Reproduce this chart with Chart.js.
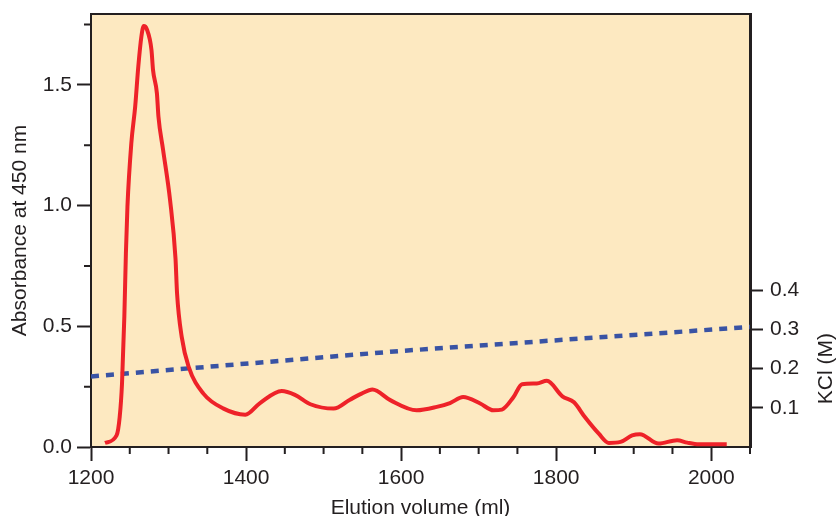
<!DOCTYPE html>
<html>
<head>
<meta charset="utf-8">
<script src="https://cdn.jsdelivr.net/npm/chart.js@4/dist/chart.umd.min.js"></script>
<style>
  html, body { margin: 0; padding: 0; background: #fff; }
  #wrap { width: 837px; height: 516px; }
</style>
</head>
<body>
<div id="wrap"><canvas id="chart" width="837" height="516"></canvas></div>
<script>
// absorbance trace
const elutionVolume = [1218, 1233, 1237, 1240, 1243, 1245, 1247, 1252, 1257, 1261, 1265, 1268, 1272,
    1278, 1280, 1285, 1287, 1293, 1302, 1309, 1311, 1317, 1326, 1345, 1371, 1399, 1418, 1446, 1463,
    1483, 1513, 1534, 1549, 1563, 1586, 1620, 1646, 1663, 1680, 1702, 1719, 1730, 1745, 1756, 1775,
    1788, 1808, 1823, 1837, 1855, 1868, 1883, 1898, 1908, 1932, 1956, 1969, 1984, 2020];
const absorbance = [0.017, 0.048, 0.124, 0.263, 0.54, 0.8, 0.995, 1.257, 1.41, 1.575, 1.70, 1.743, 1.73,
    1.644, 1.561, 1.465, 1.368, 1.23, 1.022, 0.78, 0.636, 0.456, 0.332, 0.221, 0.159, 0.134, 0.182, 0.232, 0.216,
    0.177, 0.159, 0.196, 0.221, 0.238, 0.194, 0.152, 0.166, 0.182, 0.207, 0.18, 0.152, 0.155, 0.207, 0.26, 0.263,
    0.274, 0.21, 0.185, 0.124, 0.055, 0.017, 0.021, 0.048, 0.053, 0.014, 0.028, 0.018, 0.011, 0.011];

// salt gradient
const kclVolume = [1200, 1600, 2050];
const kclConc = [0.18, 0.245, 0.306];

const xMajorTicks = [1200, 1400, 1600, 1800, 2000];
const xMinorTicks = [1250, 1300, 1350, 1450, 1500, 1550, 1650, 1700, 1750, 1850, 1900, 1950, 2050];
const absMajorTicks = [0, 0.5, 1.0, 1.5];
const absMinorTicks = [0.25, 0.75, 1.25, 1.75];
const kclTicks = [0.1, 0.2, 0.3, 0.4];

const ink = '#231f20';
const fontFamily = '"Liberation Sans", Arial, Helvetica, sans-serif';
Chart.defaults.font.family = fontFamily;
Chart.defaults.color = ink;

const frame = {
    id: 'frame',
    beforeDraw(chart) {
        const { ctx, chartArea: a } = chart;
        ctx.save();
        ctx.fillStyle = '#fde9c1';
        ctx.fillRect(a.left, a.top, a.right - a.left, a.bottom - a.top);
        ctx.restore();
    },
    afterDraw(chart) {
        const { ctx, chartArea: a, scales } = chart;
        ctx.save();
        ctx.strokeStyle = ink;
        ctx.lineWidth = 2;
        ctx.beginPath();
        ctx.moveTo(a.left - 1, a.top);
        ctx.lineTo(a.right + 1, a.top);
        ctx.stroke();

        // minor ticks
        ctx.beginPath();
        xMinorTicks.forEach(v => {
            const px = scales.x.getPixelForValue(v);
            ctx.moveTo(px, a.bottom);
            ctx.lineTo(px, a.bottom + 7);
        });
        absMinorTicks.forEach(v => {
            const py = scales.y.getPixelForValue(v);
            ctx.moveTo(a.left - 7, py);
            ctx.lineTo(a.left, py);
        });
        ctx.stroke();

        // right-hand title reads bottom to top
        ctx.translate(826, scales.kcl.getPixelForValue(0.2));
        ctx.rotate(-Math.PI / 2);
        ctx.font = '21px ' + fontFamily;
        ctx.fillStyle = ink;
        ctx.textAlign = 'center';
        ctx.textBaseline = 'middle';
        ctx.fillText('KCl (M)', 0, 0);
        ctx.restore();
    }
};

new Chart(document.getElementById('chart'), {
    type: 'line',
    data: {
        datasets: [{
            label: 'Absorbance',
            data: elutionVolume.map((v, i) => ({ x: v, y: absorbance[i] })),
            borderColor: '#ee2229',
            borderWidth: 4,
            pointRadius: 0,
            cubicInterpolationMode: 'monotone',
            yAxisID: 'y'
        }, {
            label: 'KCl',
            data: kclVolume.map((v, i) => ({ x: v, y: kclConc[i] })),
            borderColor: '#3953a4',
            borderWidth: 4.5,
            borderDash: [8, 7],
            pointRadius: 0,
            yAxisID: 'kcl'
        }]
    },
    options: {
        responsive: false,
        animation: false,
        devicePixelRatio: 1,
        layout: { padding: { top: 14, left: 0, right: 0, bottom: 0 } },
        plugins: { legend: { display: false }, tooltip: { enabled: false } },
        scales: {
            x: {
                type: 'linear',
                position: 'bottom',
                min: 1200,
                max: 2050,
                afterBuildTicks: s => { s.ticks = xMajorTicks.map(v => ({ value: v })); },
                afterFit: s => { s.height = 69; s.paddingLeft = 0; s.paddingRight = 0; },
                ticks: { font: { size: 21 }, padding: 5, maxRotation: 0, autoSkip: false, callback: v => String(v) },
                grid: { drawOnChartArea: false, tickLength: 14, tickColor: ink, tickWidth: 2 },
                border: { display: true, color: ink, width: 2 },
                title: { display: true, text: 'Elution volume (ml)', font: { size: 21 }, padding: { top: 0, bottom: -5 } }
            },
            y: {
                position: 'left',
                min: 0,
                max: 1.793,
                afterBuildTicks: s => { s.ticks = absMajorTicks.map(v => ({ value: v })); },
                afterFit: s => { s.width = 91; s.paddingTop = 0; s.paddingBottom = 0; },
                ticks: { font: { size: 21 }, padding: 5, callback: v => v.toFixed(1) },
                grid: { drawOnChartArea: false, tickLength: 14, tickColor: ink, tickWidth: 2 },
                border: { display: true, color: ink, width: 2 },
                title: { display: true, text: 'Absorbance at 450 nm', font: { size: 21 }, padding: { top: 8, bottom: 0 } }
            },
            kcl: {
                position: 'right',
                min: 0,
                max: 1.104,
                afterBuildTicks: s => { s.ticks = kclTicks.map(v => ({ value: v })); },
                afterFit: s => { s.width = 87; s.paddingTop = 0; s.paddingBottom = 0; },
                ticks: { font: { size: 21 }, padding: 7, callback: v => v.toFixed(1) },
                grid: { drawOnChartArea: false, tickLength: 13, tickColor: ink, tickWidth: 2 },
                border: { display: true, color: ink, width: 3 }
            }
        }
    },
    plugins: [frame]
});
</script>
</body>
</html>
